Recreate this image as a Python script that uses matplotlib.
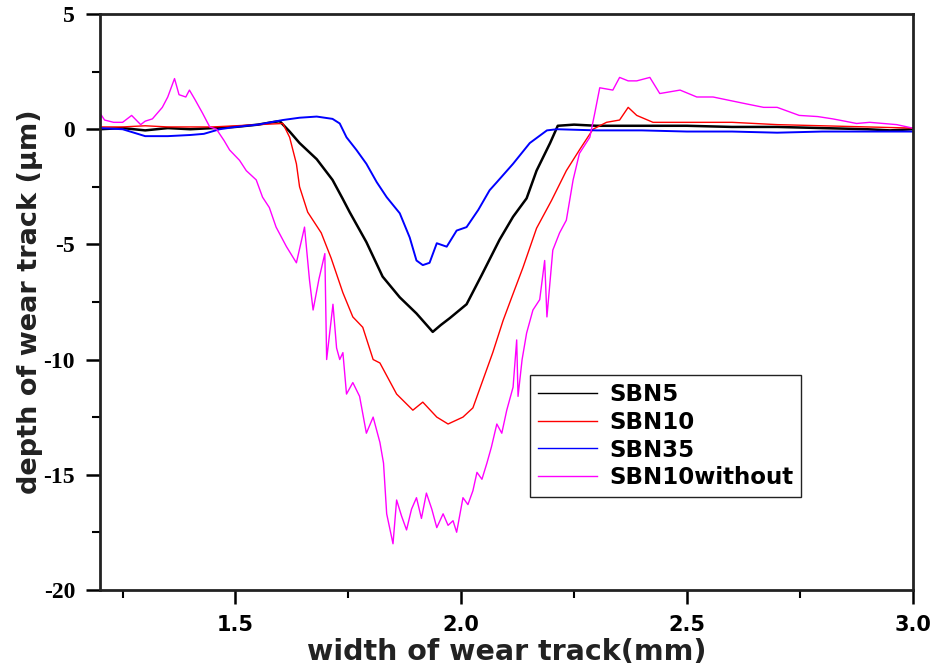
import numpy as np
import matplotlib
matplotlib.use("Agg")
import matplotlib.pyplot as plt
from matplotlib.ticker import MultipleLocator

plt.rcParams["axes.unicode_minus"] = False

# 读取的曲线数据 (width mm, depth um)
sbn5_x = [1.20, 1.25, 1.30, 1.35, 1.40, 1.45, 1.50, 1.55, 1.58, 1.598,
          1.62, 1.642, 1.68, 1.715, 1.737, 1.753, 1.79, 1.826, 1.864, 1.901,
          1.937, 1.955, 1.975, 2.012, 2.045, 2.085, 2.115, 2.145, 2.167, 2.197,
          2.214, 2.25, 2.3, 2.4, 2.5, 2.6, 2.7, 2.8, 2.9, 2.95, 3.0]
sbn5_y = [0.0, 0.05, -0.05, 0.05, 0.0, 0.05, 0.1, 0.2, 0.3, 0.35,
          -0.1, -0.6, -1.3, -2.2, -3.0, -3.6, -4.9, -6.4, -7.3, -8.0,
          -8.8, -8.5, -8.2, -7.6, -6.35, -4.8, -3.8, -3.0, -1.8, -0.6,
          0.15, 0.2, 0.15, 0.15, 0.15, 0.1, 0.1, 0.05, 0.0, -0.05, 0.0]

sbn10_x = [1.20, 1.25, 1.30, 1.35, 1.40, 1.45, 1.50, 1.55, 1.605, 1.62,
           1.635, 1.642, 1.66, 1.69, 1.712, 1.738, 1.76, 1.782, 1.805, 1.82,
           1.857, 1.893, 1.915, 1.946, 1.971, 2.004, 2.026, 2.048, 2.07, 2.093,
           2.112, 2.137, 2.167, 2.200, 2.233, 2.262, 2.292, 2.322, 2.351, 2.37,
           2.389, 2.425, 2.5, 2.6, 2.7, 2.8, 2.9, 3.0]
sbn10_y = [0.1, 0.1, 0.15, 0.1, 0.1, 0.1, 0.15, 0.2, 0.25, -0.35,
           -1.5, -2.5, -3.6, -4.5, -5.6, -7.1, -8.15, -8.6, -10.0, -10.15,
           -11.5, -12.2, -11.85, -12.5, -12.8, -12.5, -12.1, -10.9, -9.7, -8.3,
           -7.3, -6.0, -4.3, -3.1, -1.8, -0.9, 0.0, 0.3, 0.4, 0.95,
           0.6, 0.3, 0.3, 0.3, 0.2, 0.15, 0.1, 0.05]

sbn35_x = [1.20, 1.25, 1.30, 1.35, 1.40, 1.43, 1.465, 1.50, 1.55, 1.605,
           1.642, 1.68, 1.715, 1.731, 1.746, 1.768, 1.79, 1.813, 1.835, 1.864,
           1.886, 1.901, 1.915, 1.93, 1.946, 1.968, 1.99, 2.012, 2.038, 2.063,
           2.079, 2.115, 2.152, 2.19, 2.212, 2.3, 2.4, 2.5, 2.6, 2.7,
           2.8, 2.9, 3.0]
sbn35_y = [0.05, 0.0, -0.3, -0.3, -0.25, -0.2, 0.0, 0.1, 0.2, 0.4,
           0.5, 0.55, 0.45, 0.25, -0.35, -0.9, -1.5, -2.3, -2.95, -3.65,
           -4.7, -5.7, -5.9, -5.8, -4.95, -5.1, -4.4, -4.25, -3.5, -2.65,
           -2.3, -1.5, -0.6, -0.05, 0.0, -0.05, -0.05, -0.1, -0.1, -0.15,
           -0.1, -0.1, -0.1]

sbn10w_x = [1.20, 1.21, 1.23, 1.25, 1.27, 1.29, 1.30, 1.316, 1.338, 1.35,
            1.365, 1.375, 1.39, 1.398, 1.41, 1.427, 1.443, 1.458, 1.475, 1.487,
            1.509, 1.524, 1.546, 1.56, 1.575, 1.59, 1.613, 1.635, 1.653, 1.664,
            1.672, 1.685, 1.698, 1.702, 1.716, 1.724, 1.731, 1.738, 1.746, 1.76,
            1.775, 1.79, 1.805, 1.82, 1.828, 1.835, 1.849, 1.857, 1.868, 1.879,
            1.89, 1.901, 1.912, 1.923, 1.935, 1.946, 1.96, 1.971, 1.982, 1.99,
            2.004, 2.015, 2.026, 2.035, 2.046, 2.057, 2.067, 2.079, 2.09, 2.101,
            2.115, 2.123, 2.126, 2.135, 2.145, 2.159, 2.174, 2.185, 2.19, 2.203,
            2.218, 2.233, 2.248, 2.262, 2.285, 2.296, 2.307, 2.336, 2.351, 2.37,
            2.389, 2.418, 2.44, 2.485, 2.522, 2.558, 2.595, 2.632, 2.67, 2.7,
            2.749, 2.79, 2.823, 2.85, 2.876, 2.905, 2.935, 2.965, 3.0]
sbn10w_y = [0.7, 0.4, 0.3, 0.3, 0.6, 0.2, 0.35, 0.45, 0.95, 1.4,
            2.2, 1.5, 1.4, 1.7, 1.3, 0.7, 0.1, 0.0, -0.5, -0.9,
            -1.35, -1.8, -2.2, -2.95, -3.4, -4.25, -5.1, -5.8, -4.25, -6.55,
            -7.85, -6.5, -5.4, -10.0, -7.6, -9.5, -10.0, -9.7, -11.5, -11.0,
            -11.6, -13.2, -12.5, -13.6, -14.5, -16.7, -18.0, -16.1, -16.8, -17.4,
            -16.5, -16.0, -16.9, -15.8, -16.5, -17.3, -16.7, -17.2, -17.0, -17.5,
            -16.0, -16.3, -15.7, -14.9, -15.2, -14.5, -13.8, -12.8, -13.2, -12.2,
            -11.2, -9.15, -11.6, -10.0, -8.85, -7.85, -7.4, -5.7, -8.15, -5.25,
            -4.5, -3.95, -2.2, -1.05, -0.35, 0.7, 1.8, 1.7, 2.25, 2.1,
            2.1, 2.25, 1.55, 1.7, 1.4, 1.4, 1.25, 1.1, 0.95, 0.95,
            0.6, 0.55, 0.45, 0.35, 0.25, 0.3, 0.25, 0.2, 0.05]

labels = ["SBN5", "SBN10", "SBN35", "SBN10without"]
colors = ["#000000", "#ff0000", "#0000ff", "#ff00ff"]
widths = [1.8, 1.0, 1.4, 1.0]

fig = plt.figure(figsize=(9.35, 6.71), dpi=100)
ax = fig.add_axes([0.107, 0.121, 0.869, 0.858])

series = [(sbn5_x, sbn5_y), (sbn10_x, sbn10_y), (sbn35_x, sbn35_y), (sbn10w_x, sbn10w_y)]
for (xs, ys), lab, c, w in zip(series, labels, colors, widths):
    ax.plot(xs, ys, color=c, lw=w, label=lab)

ax.set_xlim(1.2, 3.0)
ax.set_ylim(-20, 5)
ax.xaxis.set_major_locator(MultipleLocator(0.5))
ax.xaxis.set_minor_locator(MultipleLocator(0.25))
ax.yaxis.set_major_locator(MultipleLocator(5))
ax.yaxis.set_minor_locator(MultipleLocator(2.5))
ax.xaxis.set_major_formatter(plt.FuncFormatter(lambda v, p: "%.1f" % v))

ax.tick_params(which="major", direction="out", length=10, width=1.8)
ax.tick_params(which="minor", direction="out", length=6, width=1.5)
ax.tick_params(axis="x", pad=8)
ax.tick_params(axis="y", pad=8)
for s in ax.spines.values():
    s.set_linewidth(2)
    s.set_color("#222222")

for t in ax.get_yticklabels():
    t.set_fontfamily("Liberation Serif")
    t.set_fontweight("bold")
    t.set_fontsize(17)
for t in ax.get_xticklabels():
    t.set_fontfamily("DejaVu Sans")
    t.set_fontweight("bold")
    t.set_fontsize(15)

ax.set_xlabel("width of wear track(mm)", fontsize=20.5, fontweight="bold",
              family="DejaVu Sans", color="#222222", labelpad=2)
ax.set_ylabel("depth of wear track (\u03bcm)", fontsize=19.5, fontweight="bold",
              family="DejaVu Sans", color="#222222", labelpad=0)

leg = ax.legend(loc="lower left", bbox_to_anchor=(0.529, 0.161), fancybox=False,
                edgecolor="#222222", framealpha=1, handlelength=2.6,
                handletextpad=0.5, borderaxespad=0,
                prop={"family": "DejaVu Sans", "weight": "bold", "size": 16.5},
                labelspacing=0.2, borderpad=0.35)
leg.get_frame().set_linewidth(1.0)
for h in leg.get_lines():
    h.set_linewidth(1.0)

fig.savefig("out.png", dpi=100)
